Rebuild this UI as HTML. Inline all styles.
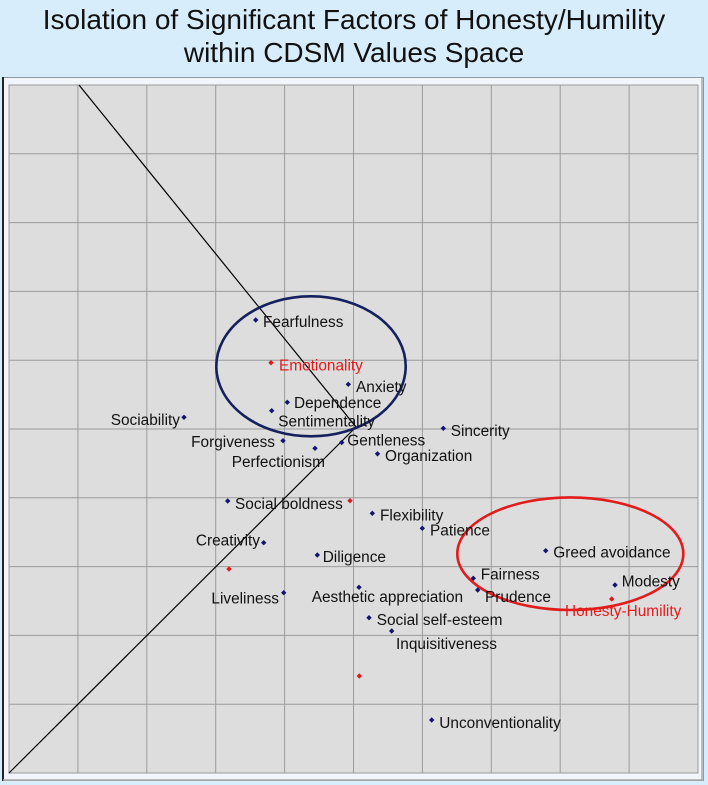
<!DOCTYPE html>
<html>
<head>
<meta charset="utf-8">
<style>
  html,body{margin:0;padding:0;}
  body{width:708px;height:785px;background:#d8edfb;overflow:hidden;}
  svg{display:block;}
  text{font-family:"Liberation Sans",Arial,sans-serif;}
</style>
</head>
<body>
<svg width="708" height="785" viewBox="0 0 708 785" xmlns="http://www.w3.org/2000/svg">
  <defs>
    <polygon id="d" points="0,-2.7 2.7,0 0,2.7 -2.7,0"/>
  </defs>
  <rect x="0" y="0" width="708" height="785" fill="#d8edfb"/>
  <!-- Title -->
  <text x="354" y="29" text-anchor="middle" font-size="28" fill="#111">Isolation of Significant Factors of Honesty/Humility</text>
  <text x="354" y="62" text-anchor="middle" font-size="28" fill="#111">within CDSM Values Space</text>

  <!-- Frame -->
  <rect x="2.5" y="77.5" width="701" height="703" fill="#f2f6fa" stroke="#8e9a9e" stroke-width="1"/>
  <line x1="3" y1="77" x2="3" y2="781" stroke="#222" stroke-width="2"/>
  <line x1="702" y1="78" x2="702" y2="780" stroke="#a9a9a9" stroke-width="1.5"/>
  <line x1="3" y1="780" x2="703" y2="780" stroke="#a9a9a9" stroke-width="1.5"/>

  <!-- Plot area -->
  <rect x="9" y="85" width="689" height="688" fill="#dddddd" stroke="#9a9a9a" stroke-width="1"/>
  <g stroke="#9c9c9c" stroke-width="1">
    <line x1="77.9" y1="85" x2="77.9" y2="773"/>
    <line x1="146.8" y1="85" x2="146.8" y2="773"/>
    <line x1="215.7" y1="85" x2="215.7" y2="773"/>
    <line x1="284.6" y1="85" x2="284.6" y2="773"/>
    <line x1="353.5" y1="85" x2="353.5" y2="773"/>
    <line x1="422.4" y1="85" x2="422.4" y2="773"/>
    <line x1="491.3" y1="85" x2="491.3" y2="773"/>
    <line x1="560.2" y1="85" x2="560.2" y2="773"/>
    <line x1="629.1" y1="85" x2="629.1" y2="773"/>
    <line x1="9" y1="153.8" x2="698" y2="153.8"/>
    <line x1="9" y1="222.6" x2="698" y2="222.6"/>
    <line x1="9" y1="291.4" x2="698" y2="291.4"/>
    <line x1="9" y1="360.2" x2="698" y2="360.2"/>
    <line x1="9" y1="429" x2="698" y2="429"/>
    <line x1="9" y1="497.8" x2="698" y2="497.8"/>
    <line x1="9" y1="566.6" x2="698" y2="566.6"/>
    <line x1="9" y1="635.4" x2="698" y2="635.4"/>
    <line x1="9" y1="704.2" x2="698" y2="704.2"/>
  </g>

  <!-- V line -->
  <polyline points="79,85 356,427 9,773" fill="none" stroke="#000" stroke-width="1.2"/>

  <!-- Ellipses -->
  <ellipse cx="311" cy="366.3" rx="94.7" ry="70" fill="none" stroke="#15215e" stroke-width="2.6"/>
  <ellipse cx="570.3" cy="553.7" rx="113" ry="56.3" fill="none" stroke="#e21b1b" stroke-width="2.6"/>

  <!-- Navy points -->
  <g fill="#141470">
    <use href="#d" x="255.7" y="320"/>
    <use href="#d" x="348.3" y="384.3"/>
    <use href="#d" x="287.3" y="402.3"/>
    <use href="#d" x="271.7" y="410.7"/>
    <use href="#d" x="184" y="417.3"/>
    <use href="#d" x="283" y="440.7"/>
    <use href="#d" x="315" y="448.3"/>
    <use href="#d" x="341.7" y="442.5"/>
    <use href="#d" x="377.5" y="453.8"/>
    <use href="#d" x="443.3" y="428.3"/>
    <use href="#d" x="227.7" y="501"/>
    <use href="#d" x="372.3" y="513.3"/>
    <use href="#d" x="422.3" y="528.3"/>
    <use href="#d" x="263.7" y="542.7"/>
    <use href="#d" x="317.3" y="555"/>
    <use href="#d" x="545.7" y="550.7"/>
    <use href="#d" x="473.3" y="578.3"/>
    <use href="#d" x="477.7" y="590"/>
    <use href="#d" x="615" y="585"/>
    <use href="#d" x="283.7" y="592.7"/>
    <use href="#d" x="359" y="587.3"/>
    <use href="#d" x="369" y="617.7"/>
    <use href="#d" x="391.7" y="631"/>
    <use href="#d" x="431.7" y="720"/>
  </g>

  <!-- Red points -->
  <g fill="#e01a1a">
    <use href="#d" x="271" y="362.7"/>
    <use href="#d" x="350" y="500.7"/>
    <use href="#d" x="229" y="569"/>
    <use href="#d" x="611.7" y="599"/>
    <use href="#d" x="359.3" y="676"/>
  </g>

  <!-- Labels -->
  <g font-size="15.4" fill="#111">
    <text x="263" y="327">Fearfulness</text>
    <text x="356" y="392">Anxiety</text>
    <text x="294" y="408">Dependence</text>
    <text x="278.3" y="426.5">Sentimentality</text>
    <text x="180" y="425" text-anchor="end">Sociability</text>
    <text x="275" y="447" text-anchor="end">Forgiveness</text>
    <text x="231.7" y="467">Perfectionism</text>
    <text x="347.3" y="445.5">Gentleness</text>
    <text x="385" y="461">Organization</text>
    <text x="450.7" y="436">Sincerity</text>
    <text x="235" y="509">Social boldness</text>
    <text x="380" y="520.5">Flexibility</text>
    <text x="430" y="535.5">Patience</text>
    <text x="260" y="545.5" text-anchor="end">Creativity</text>
    <text x="322.7" y="562">Diligence</text>
    <text x="553.3" y="557.5">Greed avoidance</text>
    <text x="480.7" y="579.5">Fairness</text>
    <text x="485" y="602">Prudence</text>
    <text x="621.7" y="586.5">Modesty</text>
    <text x="279" y="603.5" text-anchor="end">Liveliness</text>
    <text x="311.7" y="602">Aesthetic appreciation</text>
    <text x="376.7" y="625">Social self-esteem</text>
    <text x="396" y="649">Inquisitiveness</text>
    <text x="439.3" y="728">Unconventionality</text>
  </g>
  <g font-size="15.4" fill="#e31b1b">
    <text x="279" y="370.5">Emotionality</text>
    <text x="565" y="616">Honesty-Humility</text>
  </g>
</svg>
</body>
</html>
